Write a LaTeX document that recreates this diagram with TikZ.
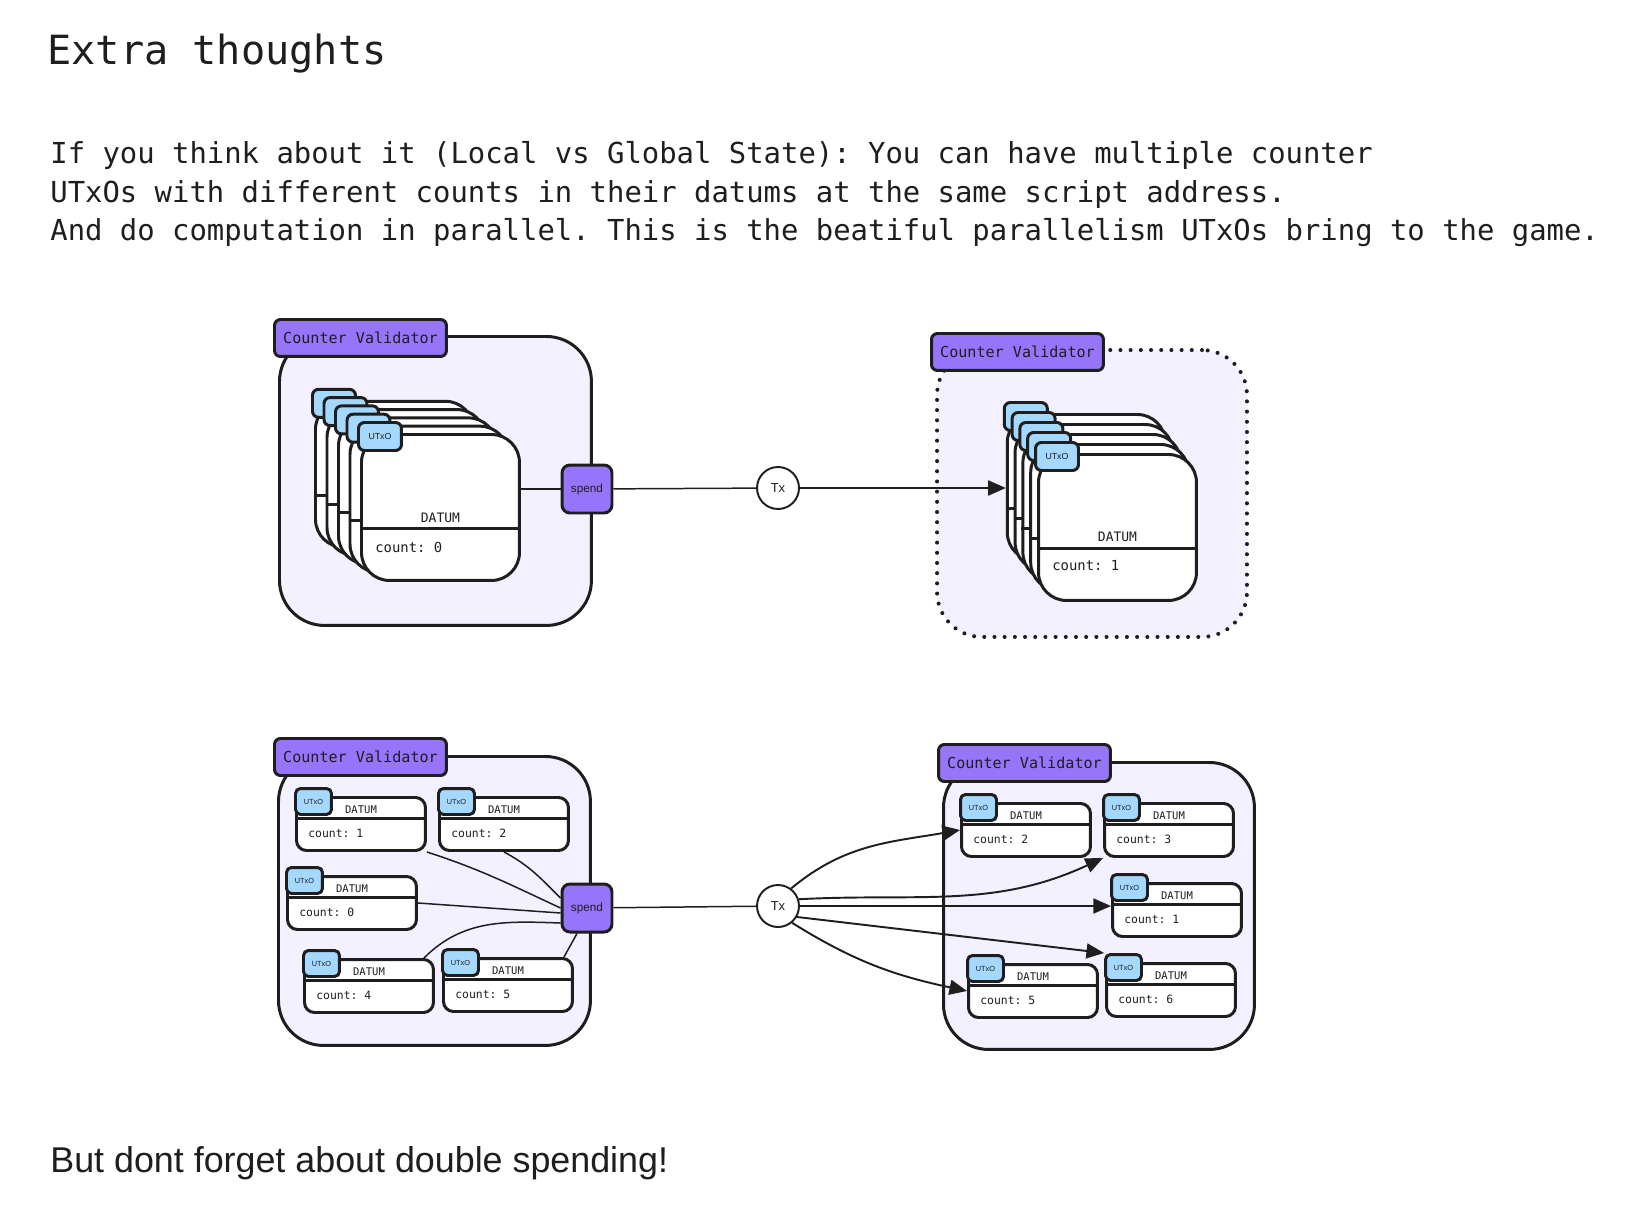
\documentclass[tikz,border=0pt]{standalone}
\usepackage{fontspec}
\setmainfont{Liberation Sans}
\setmonofont{DejaVu Sans Mono}
\usetikzlibrary{arrows.meta}
\definecolor{ink}{HTML}{1E1E1E}
\definecolor{tagviolet}{HTML}{9775FA}
\definecolor{boxfill}{HTML}{F3F0FF}
\definecolor{tabblue}{HTML}{A5D8FF}
\def\smallcard(#1)(#2)(#3){%
	\node[card, minimum width=2.58cm, minimum height=1.06cm, rounded corners=0.2cm] (#1) at (#2) {};
	\draw[cardline] ([yshift=-0.45cm]#1.north west) -- ([yshift=-0.45cm]#1.north east);
	\node[datumlbl, font=\fontsize{6}{7}\selectfont\ttfamily] at ([yshift=-0.34cm]#1.north) {DATUM};
	\node[countlbl, font=\fontsize{6.5}{8}\selectfont\ttfamily] at ([xshift=0.26cm, yshift=-0.82cm]#1.north west) {count: #3};
	\node[utxotab, minimum width=0.72cm, minimum height=0.52cm, rounded corners=0.1cm, font=\fontsize{4.2}{5}\selectfont] (#1t) at ([xshift=-0.02cm, yshift=0.18cm]#1.north west) {UTxO};
}
\def\stackcard(#1)(#2){%
	\node[card, minimum width=3.16cm, minimum height=2.92cm, rounded corners=0.56cm] (#1) at (#2) {};
	\draw[cardline] ([yshift=-1.92cm]#1.north west) -- ([yshift=-1.92cm]#1.north east);
	\node[utxotab, minimum width=0.86cm, minimum height=0.56cm, rounded corners=0.12cm] (#1t) at ([xshift=-0.06cm, yshift=0.24cm]#1.north west) {};
}

\begin{document}
\begin{tikzpicture}[x=0.02cm, y=-0.02cm, color=ink,
		container/.style={draw=ink, line width=1.7pt, fill=boxfill, rounded corners=0.9cm, anchor=north west, inner sep=0, minimum width=6.24cm, minimum height=5.78cm},
		dottedbox/.style={container, line width=2.3pt, line cap=round, dash pattern=on 0pt off 5.8pt},
		valtag/.style={draw=ink, line width=1.7pt, fill=tagviolet, rounded corners=0.12cm, anchor=north west, inner sep=0, minimum width=3.44cm, minimum height=0.74cm, font=\fontsize{8.6}{10}\selectfont\ttfamily},
		card/.style={draw=ink, line width=1.7pt, fill=white, anchor=north west, inner sep=0},
		cardline/.style={ink, line width=1.7pt},
		utxotab/.style={draw=ink, line width=1.7pt, fill=tabblue, anchor=north west, inner sep=0},
		tabtxt/.style={inner sep=0, font=\fontsize{5}{6}\selectfont},
		datumlbl/.style={anchor=base, inner sep=0},
		countlbl/.style={anchor=base west, inner sep=0},
		bodytxt/.style={anchor=base west, inner sep=0, font=\fontsize{16.45}{20}\selectfont\ttfamily},
		spendbox/.style={draw=ink, line width=1.7pt, fill=tagviolet, rounded corners=0.16cm, minimum width=1cm, minimum height=0.96cm, inner sep=0, font=\fontsize{6.7}{8}\selectfont},
		txnode/.style={draw=ink, line width=1.1pt, circle, fill=white, minimum size=0.84cm, inner sep=0, font=\fontsize{7.4}{9}\selectfont},
		link/.style={ink, line width=0.85pt},
		arrowlink/.style={ink, line width=1.1pt, -{Triangle[length=10pt, width=8.5pt]}}]
	%%%%% START %%%%%
	\useasboundingbox (0,0) rectangle (1628,1220);
	
	\node[anchor=base west, inner sep=0, font=\fontsize{22.9}{27}\selectfont\ttfamily] (title) at (47,65) {Extra thoughts};
	\node[bodytxt] (line1) at (50,163) {If you think about it (Local vs Global State): You can have multiple counter};
	\node[bodytxt] (line2) at (50,202) {UTxOs with different counts in their datums at the same script address.};
	\node[bodytxt] (line3) at (50,240) {And do computation in parallel. This is the beatiful parallelism UTxOs bring to the game.};
	
	% validators
	\node[container] (valA) at (278,335) {};
	\node[valtag] (tagA) at (273,318) {Counter Validator};
	\node[dottedbox, minimum width=6.2cm, minimum height=5.74cm] (valB) at (935,348) {};
	\node[valtag] (tagB) at (930,332) {Counter Validator};
	\node[container] (valC) at (277,755) {};
	\node[valtag] (tagC) at (273,737) {Counter Validator};
	\node[container, minimum width=6.22cm, minimum height=5.74cm] (valD) at (942,761) {};
	\node[valtag] (tagD) at (937,743) {Counter Validator};
	
	% one state, stacked utxos
	\foreach \i in {4,3,2,1,0} {\stackcard(l\i)({360-11.5*\i},{433-8.3*\i})}
	\node[datumlbl, font=\fontsize{7.4}{9}\selectfont\ttfamily] at ([yshift=-1.8cm]l0.north) {DATUM};
	\node[countlbl, font=\fontsize{7.9}{9}\selectfont\ttfamily] at ([xshift=0.3cm, yshift=-2.4cm]l0.north west) {count: 0};
	\node[tabtxt] at (l0t) {UTxO};
	
	\foreach \i in {4,3,2,1,0} {\stackcard(r\i)({1037-7.8*\i},{453-10*\i})}
	\node[datumlbl, font=\fontsize{7.4}{9}\selectfont\ttfamily] at ([yshift=-1.78cm]r0.north) {DATUM};
	\node[countlbl, font=\fontsize{7.9}{9}\selectfont\ttfamily] at ([xshift=0.3cm, yshift=-2.36cm]r0.north west) {count: 1};
	\node[tabtxt] at (r0t) {UTxO};
	
	\node[spendbox] (spendA) at (587,489) {spend};
	\node[txnode] (txA) at (778,488) {Tx};
	\draw[link] (spendA.west -| l0.east) -- (spendA.west);
	\draw[link] (spendA) -- (txA);
	\draw[arrowlink] (txA) -- (txA -| r4.west);
	
	% parallel utxos
	\smallcard(in1)(295,796)(1)
	\smallcard(in2)(438,796)(2)
	\smallcard(in0)(286,875)(0)
	\smallcard(in4)(303,958)(4)
	\smallcard(in5)(442,957)(5)
	
	\smallcard(out2)(960,802)(2)
	\smallcard(out3)(1103,802)(3)
	\smallcard(out1)(1111,882)(1)
	\smallcard(out5)(967,963)(5)
	\smallcard(out6)(1105,962)(6)
	
	\node[spendbox] (spendB) at (587,908) {spend};
	\node[txnode] (txB) at (778,906) {Tx};
	
	\draw[link] (in1.south east) to[out=-18, in=155] (spendB.west);
	\draw[link] (in2.south) to[out=-28, in=135] ([yshift=0.2cm]spendB.west);
	\draw[link] (in0.east) -- ([yshift=-0.1cm]spendB.west);
	\draw[link] ([xshift=-0.22cm]in4.north east) to[out=45, in=178] ([yshift=-0.3cm]spendB.west);
	\draw[link] ([xshift=-0.2cm]in5.north east) -- ([xshift=-0.2cm]spendB.south);
	\draw[link] (spendB) -- (txB);
	
	\draw[arrowlink] (txB.53) to[out=40, in=190] (out2.west);
	\draw[arrowlink] (txB.18) to[out=3, in=205] (out3.south west);
	\draw[arrowlink] (txB.east) -- (txB.east -| out1.west);
	\draw[arrowlink] (txB.-30) -- (out6t.north west);
	\draw[arrowlink] (txB.-50) to[out=-32, in=168] (out5.west);
	
	\node[anchor=base west, inner sep=0, font=\fontsize{20.4}{24}\selectfont] (note) at (50,1172) {But dont forget about double spending!};
	%%%%% END %%%%%
\end{tikzpicture}
\end{document}
